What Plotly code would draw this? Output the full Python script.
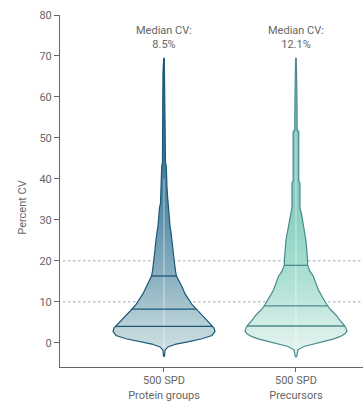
import numpy as np
import plotly.graph_objects as go

# ---------------- data ----------------
categories = ["500 SPD<br>Protein groups", "500 SPD<br>Precursors"]
median_labels = ["Median CV:<br>8.5%", "Median CV:<br>12.1%"]

# Protein groups: CV levels and estimated density (arbitrary units)
pg_cv = [-3.4, -1.8, -1.0, -0.3, 0.3, 1.0, 1.8, 2.8, 3.6, 4.5, 5.5, 6.5, 7.5, 8.5,
         9.5, 10.5, 12.0, 13.7, 15.0, 16.3, 17.5, 19.0, 20.5, 21.5, 22.7, 24.0,
         25.0, 27.0, 28.5, 30.0, 31.0, 33.0, 34.0, 36.0, 38.0, 40.0, 41.0, 43.0,
         44.0, 50.0, 60.0, 66.0, 69.4]
pg_density = [0.5, 1.0, 4.0, 12.0, 25.0, 38.0, 48.0, 51.0, 50.0, 47.0, 43.0, 39.0, 35.0, 31.0,
              27.5, 25.0, 21.0, 18.0, 15.0, 12.5, 11.5, 11.0, 10.0, 9.5, 9.0, 8.5,
              7.5, 7.0, 6.0, 5.5, 5.0, 4.5, 3.5, 3.5, 3.0, 3.0, 2.5, 2.3,
              1.5, 1.3, 1.2, 1.0, 0.3]
pg_quartiles = [4.0, 8.2, 16.3]

# Precursors
pr_cv = [-3.5, -1.7, -0.9, -0.3, 0.3, 0.9, 1.5, 2.2, 2.9, 4.1, 5.5, 6.8, 8.0, 9.0,
         10.5, 12.0, 12.9, 14.5, 16.2, 17.5, 18.9, 20.5, 22.7, 25.0, 26.8, 28.5,
         30.0, 31.5, 32.4, 33.0, 39.0, 39.5, 51.5, 52.0, 60.0, 66.0, 69.4]
pr_density = [0.5, 2.0, 8.0, 18.0, 27.0, 37.0, 44.0, 49.0, 51.0, 49.0, 44.0, 40.0, 35.0, 31.7,
              28.0, 24.5, 22.5, 20.0, 17.5, 14.0, 11.7, 11.5, 11.0, 10.0, 8.7, 7.7,
              6.7, 5.5, 4.5, 4.0, 4.0, 2.8, 2.8, 1.2, 1.0, 0.8, 0.3]
pr_quartiles = [4.1, 9.0, 18.9]

y_ticks = [0, 10, 20, 30, 40, 50, 60, 70, 80]
ref_lines = [10, 20]

# ---------------- styling ----------------
FONT = "Roboto"
TXT = "#666666"
AXIS = "#666666"
HALF = 51 / 132.0

pg_scale = [[0.0, "#d4e3e6"], [0.10, "#bdd4d9"], [0.17, "#a7c4cd"], [0.27, "#8bb0c0"],
            [0.40, "#6d9cb3"], [0.53, "#4f86a2"], [1.0, "#1e5c7f"]]
pr_scale = [[0.0, "#e8f5f2"], [0.10, "#d6eee8"], [0.17, "#c3e7de"], [0.27, "#ace0d3"],
            [0.40, "#96d6c8"], [0.53, "#86cdbf"], [1.0, "#6fb8b0"]]

fig = go.Figure()


def add_violin(pos, cv, dens, quart, cscale, lcolor):
    cv = np.asarray(cv, float)
    d = np.asarray(dens, float)
    w = d / d.max() * HALF
    x = np.concatenate([pos + w, (pos - w)[::-1]])
    y = np.concatenate([cv, cv[::-1]])
    fig.add_trace(go.Scatter(
        x=x, y=y, mode="lines", fill="toself",
        fillgradient=dict(type="vertical", colorscale=cscale, start=-4, stop=70),
        line=dict(color=lcolor, width=1.2),
        hoverinfo="skip", showlegend=False))
    # faint centre line
    top = cv[np.where(w * 132 > 2.6)[0].max()]
    fig.add_trace(go.Scatter(
        x=[pos, pos], y=[-1.2, top], mode="lines",
        line=dict(color="rgba(255,255,255,0.55)", width=1),
        hoverinfo="skip", showlegend=False))
    for q in quart:
        hw = np.interp(q, cv, w)
        fig.add_trace(go.Scatter(
            x=[pos - hw, pos + hw], y=[q, q], mode="lines",
            line=dict(color=lcolor, width=1.3),
            hoverinfo="skip", showlegend=False))


add_violin(0, pg_cv, pg_density, pg_quartiles, pg_scale, "#1b5878")
add_violin(1, pr_cv, pr_density, pr_quartiles, pr_scale, "#4a8a8d")

for r in ref_lines:
    fig.add_shape(type="line", xref="paper", x0=0.01, x1=1, yref="y", y0=r, y1=r,
                  line=dict(color="#c2c2d4", width=1.5, dash="2.5px,2.5px"), layer="below")

for i, t in enumerate(median_labels):
    fig.add_annotation(x=i, y=74.4, xref="x", yref="y", text=t, showarrow=False,
                       xanchor="center", yanchor="middle",
                       font=dict(family=FONT, size=11, color=TXT))

fig.add_annotation(xref="paper", x=-0.125, yref="y", y=33, text="Percent CV",
                   textangle=-90, showarrow=False, xanchor="center", yanchor="middle",
                   font=dict(family=FONT, size=11, color=TXT))

fig.update_layout(
    width=363, height=402,
    margin=dict(l=60, r=0, t=15, b=35),
    paper_bgcolor="white", plot_bgcolor="white",
    font=dict(family=FONT, size=11, color=TXT),
    showlegend=False,
    xaxis=dict(range=[-0.788, 1.508], tickvals=[0, 1], ticktext=categories,
               showline=True, linecolor=AXIS, linewidth=1, ticks="outside",
               ticklen=4, tickcolor=AXIS, showgrid=False, zeroline=False,
               ticklabelstandoff=-1,
               tickfont=dict(family=FONT, size=11, color=TXT)),
    yaxis=dict(range=[-5.9, 80], tickvals=y_ticks, showline=True, linecolor=AXIS,
               linewidth=1, ticks="outside", ticklen=5, tickcolor=AXIS,
               showgrid=False, zeroline=False,
               tickfont=dict(family=FONT, size=11, color=TXT)),
)

fig.write_html("out.html")
